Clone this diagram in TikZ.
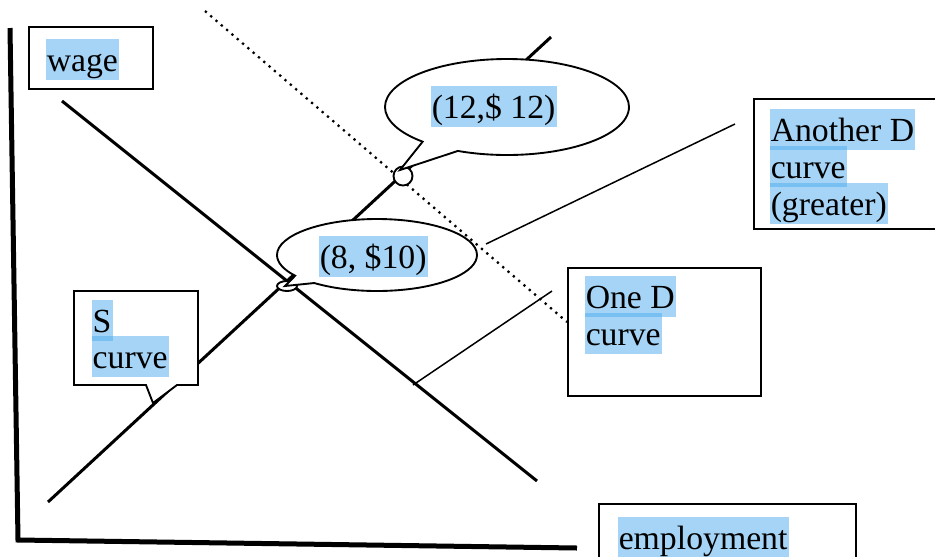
\documentclass[tikz,border=0pt]{standalone}
\usepackage{fontspec}
\setmainfont{Liberation Serif}
\usepackage{tikz}
\usetikzlibrary{shapes,shapes.callouts,positioning,calc}
\definecolor{hlblue}{RGB}{77,171,239}

\begin{document}
\begin{tikzpicture}[x=0.4pt,y=-0.4pt,
    labelbox/.style={draw, line width=0.75pt, fill=white, inner sep=0pt, anchor=north west},
    hl/.style={anchor=north west, fill=hlblue, fill opacity=0.5, text opacity=1, inner xsep=0.5pt, inner ysep=0pt, text height=13pt, text depth=3.6pt, font=\fontsize{13.5}{15}\selectfont},
    bubble/.style={ellipse callout, draw, line width=0.75pt, fill=white, inner sep=0pt}]
    \useasboundingbox (0,0) rectangle (935,556);
    % Axes
    \coordinate (ytop) at (10,28);
    \coordinate (orig) at (18,540);
    \coordinate (xend) at (577,548);
    \draw[line width=2pt] (ytop) -- (orig) -- (xend);
    % Curves
    \coordinate (Dtop) at (62,101);
    \coordinate (Dbot) at (537,481);
    \coordinate (Sbot) at (48,502);
    \coordinate (Stop) at (551,37);
    \coordinate (D2top) at (205,11);
    \coordinate (D2bot) at (567,322);
    \draw[line width=1.2pt] (Dtop) -- (Dbot);
    \draw[line width=1.2pt] (Sbot) -- (Stop);
    \draw[line width=0.9pt, dash pattern=on 0.9pt off 1.9pt] (D2top) -- (D2bot);
    % Pointers to the curves
    \coordinate (anoFrom) at (735,124);
    \coordinate (anoTo) at (486,244);
    \coordinate (oneFrom) at (552,291);
    \coordinate (oneTo) at (413,385);
    \draw[line width=0.6pt] (anoFrom) -- (anoTo);
    \draw[line width=0.6pt] (oneFrom) -- (oneTo);
    % Equilibrium points
    \node[draw, circle, fill=white, line width=0.75pt, minimum size=7.6pt, inner sep=0pt] (eqHigh) at (403,176) {};
    \node[draw, ellipse, fill=white, line width=0.75pt, minimum width=8pt, minimum height=4pt, inner sep=0pt] (eqLow) at (287,286) {};
    \node[bubble, minimum width=97.6pt, minimum height=38.4pt, callout pointer arc=20, callout absolute pointer={(400,170)}] (bubHigh) at (507,107) {};
    \node[bubble, minimum width=80pt, minimum height=28.8pt, callout pointer arc=16, callout absolute pointer={(285,286)}] (bubLow) at (377,255) {};
    \node[hl] (txtHigh) at (430,85) {(12,\$ 12)};
    \node[hl] (txtLow) at (318,235) {(8, \$10)};
    % Label boxes
    \node[labelbox, minimum width=49.6pt, minimum height=24.8pt] (wageBox) at (28,26) {};
    \node[hl] (txtWage) at (45,38) {wage};
    \draw[line width=0.75pt, fill=white] (74,291) -- (198,291) -- (198,385) -- (177,385) -- (153,403) -- (146,385) -- (74,385) -- cycle;
    \node[hl] (txtS) at (91,299) {S};
    \node[hl] (txtSc) at (91,335) {curve};
    \node[labelbox, minimum width=77.2pt, minimum height=51.2pt] (oneBox) at (567,267) {};
    \node[hl] (txtOne) at (584,275) {One D};
    \node[hl] (txtOnec) at (584,312) {curve};
    \node[labelbox, minimum width=75pt, minimum height=52pt] (anoBox) at (753,98) {};
    \node[hl] (txtAno) at (769,108) {Another D};
    \node[hl] (txtAnoc) at (769,145) {curve};
    \node[hl] (txtAnog) at (769,182) {(greater)};
    \node[labelbox, minimum width=102.8pt, minimum height=30pt] (empBox) at (598,503) {};
    \node[hl] (txtEmp) at (617,516) {employment};
\end{tikzpicture}
\end{document}
